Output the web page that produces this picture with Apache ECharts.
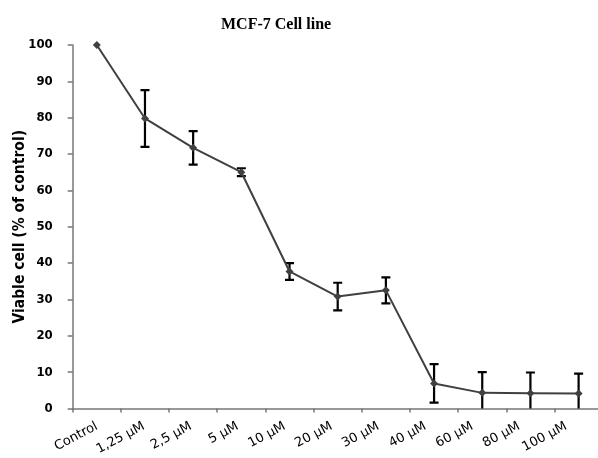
<!DOCTYPE html>
<html>
<head>
<meta charset="utf-8">
<script src="https://cdn.jsdelivr.net/npm/echarts@6/dist/echarts.min.js"></script>
<style>html,body{margin:0;padding:0;background:#fff}#c{width:598px;height:458px}</style>
</head>
<body>
<div id="c"></div>
<script>
const categories = ['Control', '1,25 µM', '2,5 µM', '5 µM', '10 µM', '20 µM', '30 µM', '40 µM', '60 µM', '80 µM', '100 µM'];
const viable = [100, 79.8, 71.7, 65.0, 37.7, 30.8, 32.5, 6.9, 4.3, 4.2, 4.1];
const errors = [0, 7.8, 4.6, 1.1, 2.3, 3.8, 3.6, 5.3, 5.7, 5.7, 5.5];
const yTicks = [0, 10, 20, 30, 40, 50, 60, 70, 80, 90, 100];

const chart = echarts.init(document.getElementById('c'), null, {renderer: 'canvas'});
const serif = 'Liberation Serif, Times New Roman, serif';
const sansC = '"DejaVu Sans Condensed", "DejaVu Sans", sans-serif';
const sans = '"DejaVu Sans", sans-serif';
const errData = viable.map((v, i) => [i, v - errors[i], v + errors[i]]);

chart.setOption({
  animation: false,
  backgroundColor: '#fff',
  title: {
    text: 'MCF-7 Cell line',
    left: 216, top: 12,
    textStyle: {fontFamily: serif, fontWeight: 'bold', fontSize: 16, color: '#000'}
  },
  grid: [
    {left: 72.7, top: 45, width: 530, bottom: 49.5, containLabel: false, outerBoundsMode: 'none'},
    {left: 73.5, top: 45, width: 516, bottom: 49.5, containLabel: false, outerBoundsMode: 'none'}
  ],
  xAxis: [
    {
      type: 'category',
      gridIndex: 0,
      data: categories,
      boundaryGap: true,
      axisLine: {lineStyle: {color: '#777', width: 1.5}},
      axisTick: {show: true, inside: false, length: 4, interval: 0, lineStyle: {color: '#777', width: 1.5}},
      axisLabel: {show: false}
    },
    {
      type: 'category',
      gridIndex: 1,
      data: categories,
      boundaryGap: true,
      axisLine: {show: false},
      axisTick: {show: false},
      axisLabel: {rotate: 28, margin: 17, fontFamily: sans, fontSize: 13, color: '#000', interval: 0}
    }
  ],
  yAxis: [
    {
      type: 'value',
      gridIndex: 0,
      min: 0, max: 100, interval: 10,
      name: 'Viable cell (% of control)',
      nameLocation: 'middle',
      nameGap: 45,
      nameMoveOverlap: false,
      nameTextStyle: {fontFamily: sansC, fontWeight: 'bold', fontSize: 15.5, color: '#000'},
      splitLine: {show: false},
      axisLine: {show: true, lineStyle: {color: '#777', width: 1.5}},
      axisTick: {show: true, length: 5, lineStyle: {color: '#777', width: 1.5}},
      axisLabel: {
        margin: 20, fontFamily: sansC, fontWeight: 'bold', fontSize: 13, color: '#000',
        formatter: v => yTicks.includes(v) ? String(v) : ''
      }
    },
    {
      type: 'value', gridIndex: 1, min: 0, max: 100, show: false
    }
  ],
  series: [
    {
      type: 'custom',
      xAxisIndex: 0, yAxisIndex: 0,
      clip: true,
      z: 3,
      renderItem: (params, api) => {
        const x = api.value(0);
        const lo = api.coord([x, api.value(1)]);
        const hi = api.coord([x, api.value(2)]);
        if (Math.abs(hi[1] - lo[1]) < 0.5) return null;
        const w = 4.5;
        const st = {stroke: '#000', lineWidth: 2.2};
        return {
          type: 'group',
          children: [
            {type: 'line', shape: {x1: lo[0], y1: lo[1], x2: hi[0], y2: hi[1]}, style: st},
            {type: 'line', shape: {x1: hi[0] - w, y1: hi[1], x2: hi[0] + w, y2: hi[1]}, style: st},
            {type: 'line', shape: {x1: lo[0] - w, y1: lo[1], x2: lo[0] + w, y2: lo[1]}, style: st}
          ]
        };
      },
      encode: {x: 0, y: [1, 2]},
      data: errData
    },
    {
      type: 'line',
      xAxisIndex: 0, yAxisIndex: 0,
      data: viable,
      z: 4,
      symbol: 'diamond',
      symbolSize: 8,
      lineStyle: {color: '#404040', width: 2},
      itemStyle: {color: '#404040'}
    }
  ]
});
</script>
</body>
</html>
